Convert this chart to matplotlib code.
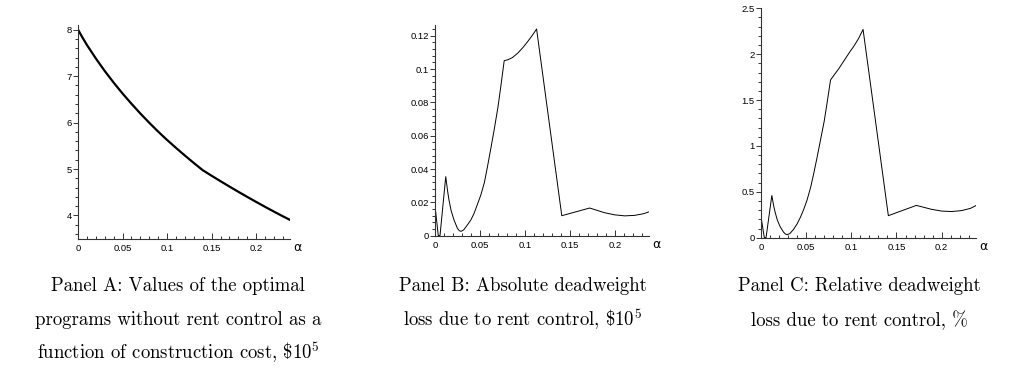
import matplotlib
matplotlib.use("Agg")
import matplotlib.pyplot as plt
from matplotlib.ticker import MultipleLocator
import numpy as np

plt.rcParams['mathtext.fontset'] = 'cm'

# Panel A: value of optimal program vs construction cost alpha
alpha_a = [0, 0.005, 0.01, 0.02, 0.03, 0.04, 0.05, 0.06, 0.07, 0.08, 0.09, 0.1,
           0.11, 0.12, 0.13, 0.14, 0.15, 0.16, 0.17, 0.18, 0.19, 0.2, 0.21,
           0.22, 0.23, 0.238]
value_a = [8.0, 7.83, 7.67, 7.38, 7.11, 6.86, 6.625, 6.405, 6.195, 5.995, 5.805, 5.625,
           5.455, 5.29, 5.13, 4.975, 4.855, 4.738, 4.623, 4.51, 4.40, 4.292, 4.186,
           4.083, 3.982, 3.905]

# Panel B: absolute deadweight loss
alpha_b = [0, 0.0037, 0.0056, 0.012, 0.014, 0.0156, 0.018, 0.0212, 0.025, 0.027,
           0.029, 0.032, 0.036, 0.04, 0.0435, 0.047, 0.051, 0.055, 0.0584, 0.062,
           0.0658, 0.07, 0.0732, 0.077, 0.0807, 0.086, 0.092, 0.098, 0.103, 0.108,
           0.113, 0.141, 0.172, 0.1885, 0.2, 0.211, 0.222, 0.232, 0.238]
loss_b = [0.0184, 0.0, 0.0, 0.0354, 0.027, 0.0214, 0.015, 0.0094, 0.0044, 0.003,
          0.0026, 0.0035, 0.0064, 0.0095, 0.0134, 0.0185, 0.0244, 0.032, 0.0414, 0.052,
          0.0634, 0.077, 0.0894, 0.105, 0.1055, 0.1068, 0.1095, 0.113, 0.1164, 0.120,
          0.124, 0.012, 0.0166, 0.0138, 0.0125, 0.0119, 0.0122, 0.0132, 0.0143]

# Panel C: relative deadweight loss, %
alpha_c = alpha_b
loss_c = [0.23, 0.0, 0.0, 0.46, 0.35, 0.28, 0.195, 0.12, 0.06, 0.04,
          0.033, 0.045, 0.09, 0.15, 0.22, 0.30, 0.41, 0.55, 0.70, 0.87,
          1.06, 1.27, 1.47, 1.72, 1.77, 1.84, 1.93, 2.02, 2.09, 2.17,
          2.27, 0.24, 0.352, 0.31, 0.29, 0.285, 0.295, 0.32, 0.35]

captions = [
    ["Panel A: Values of the optimal",
     "programs without rent control as a",
     r"function of construction cost, \$10$^5$"],
    ["Panel B: Absolute deadweight",
     r"loss due to rent control, \$10$^5$"],
    ["Panel C: Relative deadweight",
     "loss due to rent control, %"],
]

fig = plt.figure(figsize=(10.16, 3.83), dpi=100)

def style(ax, xmax, ymin, ymax, ymaj, ymin_step):
    ax.set_xlim(0, xmax)
    ax.set_ylim(ymin, ymax)
    for s in ['top', 'right']:
        ax.spines[s].set_visible(False)
    for s in ['left', 'bottom']:
        ax.spines[s].set_linewidth(0.8)
        ax.spines[s].set_color('#333333')
    ax.xaxis.set_major_locator(MultipleLocator(0.05))
    ax.xaxis.set_minor_locator(MultipleLocator(0.01))
    ax.yaxis.set_major_locator(MultipleLocator(ymaj))
    ax.yaxis.set_minor_locator(MultipleLocator(ymin_step))
    fmt = plt.FuncFormatter(lambda v, p: '%g' % round(v, 3))
    ax.xaxis.set_major_formatter(fmt)
    ax.yaxis.set_major_formatter(fmt)
    ax.tick_params(axis='x', which='major', direction='in', length=4, width=0.7,
                   labelsize=6.8, pad=4, colors='#333333', labelcolor='black')
    ax.tick_params(axis='x', which='minor', direction='in', length=2.5, width=0.7,
                   colors='#333333')
    ax.tick_params(axis='y', which='major', direction='out', length=3.5, width=0.7,
                   labelsize=6.8, pad=1, colors='#333333', labelcolor='black')
    ax.tick_params(axis='y', which='minor', direction='out', length=2.5, width=0.7,
                   colors='#333333')
    for lab in ax.get_xticklabels() + ax.get_yticklabels():
        lab.set_fontfamily('Liberation Sans')
    ax.text(1.015, -0.012, 'α', transform=ax.transAxes, ha='left', va='top',
            fontsize=9, family='DejaVu Sans')

axA = fig.add_axes([0.0768, 0.3768, 0.2086, 0.5579])
axA.plot(alpha_a, value_a, color='black', lw=1.6)
style(axA, 0.238, 3.5, 8.1, 1, 0.2)

axB = fig.add_axes([0.4281, 0.3846, 0.2107, 0.5501])
axB.plot(alpha_b, loss_b, color='black', lw=0.7)
style(axB, 0.238, 0, 0.1264, 0.02, 0.004)

axC = fig.add_axes([0.7490, 0.3794, 0.2116, 0.5989])
axC.plot(alpha_c, loss_c, color='black', lw=0.7)
style(axC, 0.238, 0, 2.5, 0.5, 0.1)

centers = [178, 523, 859]
line_y = [286, 320, 353]
for cx, lines in zip(centers, captions):
    for i, t in enumerate(lines):
        fig.text(cx / 1016, 1 - line_y[i] / 383, t, ha='center', va='center',
                 fontsize=13.5, family='cmr10')

fig.savefig('out.png', dpi=100)
